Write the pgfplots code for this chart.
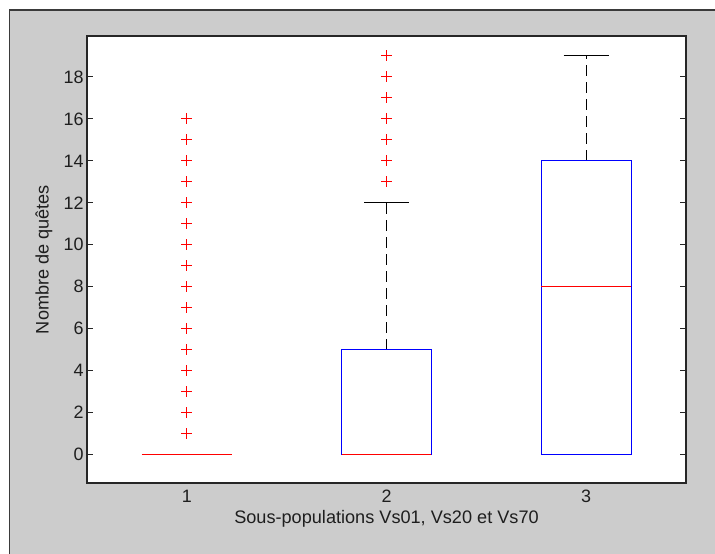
\documentclass[border=0pt]{standalone}
\usepackage{pgfplots}
\pgfplotsset{compat=1.18}
\usepackage{fontspec}
\setmainfont{Liberation Sans}

\definecolor{figgray}{HTML}{CCCCCC}
\definecolor{framegray}{HTML}{3A3A3A}
\definecolor{axisgray}{HTML}{262626}
\definecolor{textgray}{HTML}{1E1E1E}

\begin{document}
\begin{tikzpicture}[x=1bp,y=1bp]
\useasboundingbox (0,0) rectangle (715,554);
\fill[white] (0,0) rectangle (715,554);
\fill[figgray] (9.5,0) rectangle (715,544);
\draw[framegray, line width=1.5bp] (9.5,0) -- (9.5,544) -- (715,544);
\begin{axis}[
  at={(87bp,71bp)}, anchor=south west,
  scale only axis, width=599bp, height=447bp,
  xmin=0.5, xmax=3.5, ymin=-1.35, ymax=19.95,
  axis background/.style={fill=white},
  axis line style={axisgray, line width=1.2bp},
  xtick={1,2,3},
  major x tick style={draw=none},
  ytick={0,2,...,18},
  ytick pos=both,
  tick align=inside,
  major tick length=6bp,
  major y tick style={axisgray, line width=1bp},
  tick label style={font=\fontsize{18}{21}\selectfont, text=textgray},
  /pgf/number format/assume math mode=true,
  xticklabel style={anchor=base, yshift=-20bp},
  label style={font=\fontsize{18.2}{21}\selectfont, text=textgray},
  xlabel={Sous-populations Vs01, Vs20 et Vs70},
  ylabel={Nombre de quêtes},
  xlabel style={at={(axis description cs:0.5,-0.0794)}, anchor=center},
  ylabel style={at={(axis description cs:-0.0718,0.5)}, anchor=center},
  clip=false,
]
% upper whiskers (dashed) and their caps
\addplot[black, line width=1bp, dash pattern=on 11bp off 6bp] coordinates {(2,5) (2,12)};
\addplot[black, line width=1bp] coordinates {(1.8875,12) (2.1125,12)};
\addplot[black, line width=1bp, dash pattern=on 11bp off 6bp] coordinates {(3,14) (3,19)};
\addplot[black, line width=1bp] coordinates {(2.8875,19) (3.1125,19)};
% boxes (quartiles)
\addplot[blue, line width=1bp] coordinates {(0.775,0) (1.225,0) (1.225,0) (0.775,0) (0.775,0)};
\addplot[blue, line width=1bp] coordinates {(1.775,0) (2.225,0) (2.225,5) (1.775,5) (1.775,0)};
\addplot[blue, line width=1bp] coordinates {(2.775,0) (3.225,0) (3.225,14) (2.775,14) (2.775,0)};
% medians
\addplot[red, line width=1bp] coordinates {(0.775,0) (1.225,0)};
\addplot[red, line width=1bp] coordinates {(1.775,0) (2.225,0)};
\addplot[red, line width=1bp] coordinates {(2.775,8) (3.225,8)};
% outliers
\addplot[only marks, mark=+, mark size=5.5bp, red, mark options={line width=1bp}]
  coordinates {(1,1) (1,2) (1,3) (1,4) (1,5) (1,6) (1,7) (1,8) (1,9) (1,10)
               (1,11) (1,12) (1,13) (1,14) (1,15) (1,16)
               (2,13) (2,14) (2,15) (2,16) (2,17) (2,18) (2,19)};
\end{axis}
\end{tikzpicture}
\end{document}
